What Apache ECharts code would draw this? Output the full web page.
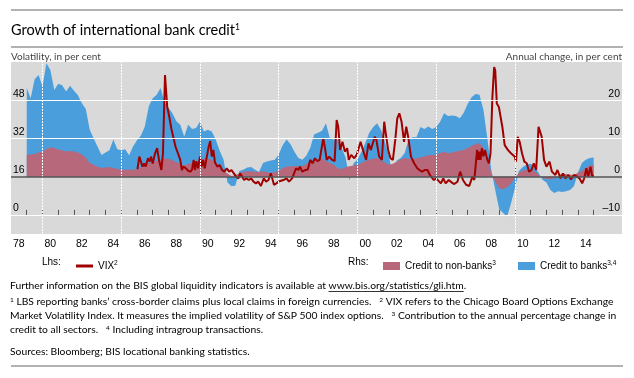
<!DOCTYPE html>
<html><head><meta charset="utf-8">
<script src="https://cdn.jsdelivr.net/npm/echarts@6/dist/echarts.min.js"></script>
<style>html,body{margin:0;padding:0;background:#fff}#c{width:634px;height:378px}</style>
</head><body><div id="c"></div><script>
// ---- data ----
// quarterly credit series (contributions, % points), first observation 1979 Q1
const creditStart = 1979;
const nonBanks = [
 5.7,5.8,5.9,6.3, 6.6,7.2,7.7,7.5, 7.1,6.9,6.6,6.7, 6.6,6.3,5.8,5.0,
 3.6,3.1,2.6,2.3, 2.4,2.5,2.3,2.1, 1.8,1.8,1.8,1.9, 1.9,2.4,3.0,3.6,
 3.9,4.1,4.4,4.8, 4.6,4.3,3.8,3.3, 2.9,3.3,3.6,3.8, 4.0,4.8,4.7,4.4,
 3.7,2.6,1.6,0.8, 0.2,0.4,0.9,1.3, 1.4,1.4,1.3,1.2, 1.4,1.2,0.9,1.2,
 1.5,2.3,2.6,2.7, 2.7,2.7,2.8,3.3, 3.9,4.3,4.7,4.6, 4.1,3.6,3.1,2.2,
 2.0,2.5,2.7,2.9, 3.1,3.6,4.1,4.4, 4.7,4.9,4.3,3.7, 3.1,3.4,4.0,4.5,
 4.9,4.7,4.4,4.8, 5.0,5.3,5.6,5.7, 5.7,6.2,6.5,6.1, 6.3,6.6,6.8,7.0,
 7.5,8.1,8.5,8.8, 7.5,5.2,0.9,-1.3, -3.0,-3.3,-2.8,-1.8, -0.4,1.0,1.6,1.8,
 1.7,1.5,0.5,-0.3, -0.6,-0.7,-0.5,0.2, 0.8,0.7,0.5,0.5, 1.0,1.5,2.3,2.9,
 3.0
];
const banks = [
 17.5,14.7,19.6,20.3, 17.0,22.5,20.2,15.2, 17.2,17.0,15.7,17.1, 15.9,15.0,13.4,12.7,
 8.7,6.9,5.2,3.4, 3.9,4.4,7.4,5.1, 5.1,5.4,3.8,6.0, 7.6,8.4,10.1,14.8,
 16.6,17.3,18.8,14.7, 13.4,12.3,10.7,10.3, 7.6,10.3,8.9,8.9, 10.4,7.0,7.6,7.4,
 6.0,4.2,2.8,-1.5, -2.5,-2.3,0.6,0.5, 1.0,1.1,0.5,0.0, 2.2,2.8,3.3,3.2,
 4.3,5.9,7.1,5.8, 3.8,2.2,1.6,2.2, 3.6,6.7,6.8,7.4, 9.9,6.4,6.6,7.5,
 5.5,2.5,-1.0,0.6, 1.3,2.9,4.7,7.1, 8.3,9.1,7.9,5.3, 2.4,-0.3,0.2,0.4,
 1.3,5.1,5.9,5.5, 8.0,7.2,7.5,6.8, 7.3,8.2,10.1,9.8, 9.7,9.3,8.5,9.7,
 11.5,12.7,13.1,12.6, 10.0,4.8,0.9,-2.2, -5.5,-6.2,-7.6,-5.2, -2.6,0.5,0.9,1.4,
 1.7,1.2,0.5,-0.5, -0.9,-2.8,-3.8,-3.8, -4.0,-3.8,-3.5,-2.5, 0.0,2.1,2.1,2.0,
 2.0
];
const vixDates = [
 1986.03,1986.15,1986.25,1986.35,1986.45,1986.55,1986.7,1986.8,1986.9,1987.0,
 1987.15,1987.28,1987.4,1987.55,1987.65,1987.78,1987.92,1988.05,1988.18,1988.3,
 1988.45,1988.6,1988.75,1988.85,1988.95,1989.1,1989.27,1989.4,1989.5,1989.6,
 1989.68,1989.77,1989.88,1990.0,1990.1,1990.2,1990.3,1990.42,1990.55,1990.65,
 1990.75,1990.85,1990.95,1991.1,1991.25,1991.4,1991.55,1991.7,1991.85,1992.0,
 1992.15,1992.3,1992.44,1992.55,1992.65,1992.8,1992.95,1993.1,1993.25,1993.4,
 1993.55,1993.7,1993.87,1994.05,1994.2,1994.35,1994.5,1994.7,1994.85,1995.0,
 1995.1,1995.3,1995.5,1995.65,1995.85,1996.1,1996.25,1996.35,1996.5,1996.7,
 1996.85,1997.0,1997.15,1997.3,1997.45,1997.6,1997.83,1997.95,1998.05,1998.2,
 1998.4,1998.55,1998.68,1998.78,1998.9,1999.05,1999.2,1999.35,1999.45,1999.6,
 1999.8,1999.95,2000.2,2000.35,2000.55,2000.7,2000.85,2001.1,2001.2,2001.38,
 2001.55,2001.7,2001.8,2001.95,2002.1,2002.25,2002.4,2002.53,2002.66,2002.8,
 2002.96,2003.1,2003.22,2003.4,2003.6,2003.8,2003.94,2004.1,2004.3,2004.45,
 2004.6,2004.85,2005.0,2005.3,2005.45,2005.6,2005.8,2006.0,2006.15,2006.35,
 2006.52,2006.7,2006.9,2007.1,2007.3,2007.42,2007.5,2007.6,2007.68,2007.75,
 2007.82,2007.9,2008.0,2008.1,2008.25,2008.35,2008.45,2008.57,2008.68,2008.75,
 2008.85,2008.98,2009.08,2009.2,2009.35,2009.55,2009.75,2009.98,2010.07,2010.18,
 2010.3,2010.45,2010.6,2010.75,2010.9,2011.05,2011.2,2011.35,2011.5,2011.6,
 2011.7,2011.85,2012.0,2012.2,2012.35,2012.57,2012.7,2012.9,2013.05,2013.2,
 2013.4,2013.55,2013.75,2013.95,2014.1,2014.27,2014.4,2014.54,2014.65,2014.8,
 2014.9,2015.0
];
const vixValues = [
 19.1,24.4,24.8,20.2,21.5,20.2,23.7,22.3,24.4,21.5,
 25.8,27.9,23.0,18.8,25.8,58.5,45.2,41.1,36.2,32.7,
 28.5,25.8,23.0,18.8,20.2,19.5,18.4,18.1,19.0,23.0,
 18.8,22.5,19.5,24.4,20.2,23.0,19.5,20.2,28.5,30.9,
 24.4,27.2,22.0,20.2,20.9,18.8,18.1,19.5,18.1,18.8,
 17.4,16.0,15.3,17.4,16.7,14.6,15.3,14.6,15.3,13.9,
 13.2,13.9,12.1,15.3,13.9,14.6,17.4,12.6,13.2,14.0,
 14.6,14.6,15.3,13.9,15.3,19.5,18.8,20.2,18.1,18.8,
 19.0,23.0,21.6,23.7,22.5,23.0,32.0,27.5,23.0,24.4,
 23.0,22.5,39.7,36.9,27.2,30.6,26.5,27.9,23.0,25.1,
 23.7,25.1,30.6,27.2,23.0,29.9,27.2,32.7,31.5,24.4,
 23.0,39.0,34.0,27.2,23.7,23.0,31.3,40.4,42.5,39.0,
 30.6,36.9,32.7,24.4,21.6,19.5,18.8,18.1,18.8,18.8,
 16.7,14.6,15.3,13.2,15.3,13.2,14.6,13.5,12.9,13.9,
 18.1,14.6,12.6,12.1,16.0,14.6,20.2,27.2,23.0,26.5,
 23.0,27.9,24.5,27.2,23.0,21.6,25.8,49.4,61.9,60.5,
 46.6,45.2,45.9,36.9,29.2,27.2,25.8,24.4,22.3,32.7,
 30.6,25.8,22.3,21.6,18.1,18.8,21.6,18.8,36.9,36.2,
 32.7,23.0,20.2,22.3,18.1,16.7,18.8,15.3,17.4,15.3,
 16.7,14.9,16.7,16.0,15.3,13.2,15.3,19.5,16.0,20.2,
 16.5,16.1
];
const labelYears = [1978,1980,1982,1984,1986,1988,1990,1992,1994,1996,1998,2000,2002,2004,2006,2008,2010,2012,2014];
const tickYears = [1979,1980,1981,1982,1983,1984,1985,1986,1987,1988,1989,1990,1991,1992,1993,1994,1995,1996,1997,1998,1999,2000,2001,2002,2003,2004,2005,2006,2007,2008,2009,2010,2011,2012,2013,2014,2015];
const longTickYears = [1980,1985,1990,1995,2000,2005,2010];
const lhsTicks = [0,16,32,48];
const rhsTicks = [-10,0,10,20];

// ---- build ----
const creditDates = nonBanks.map((_, i) => creditStart + i * 0.25);
const nonBanksData = creditDates.map((d, i) => [d, nonBanks[i]]);
// banks contribution stacked on non-banks when both have the same sign (samesign stacking)
const banksStackTop = banks.map((b, i) => {
  const p = nonBanks[i];
  return (p >= 0 && b >= 0) || (p < 0 && b < 0) ? p + b : b;
});
const banksData = creditDates.map((d, i) => [d, banksStackTop[i]]);
const vixData = vixDates.map((d, i) => [d, vixValues[i]]);

const C = {bg:'#d9d9d9', blue:'#4a9edc', pink:'#b8687b', red:'#a00000', zero:'#555555', rule:'#999999'};
const SANS = 'Liberation Sans, Arial, sans-serif';
const CAL = 'Lato, Carlito, sans-serif';
const FN = 10.3;

function measure(text, font){
  const c = document.createElement('canvas').getContext('2d');
  c.font = font; return c.measureText(text).width;
}
const supStyle = (fs) => ({fontSize: fs, fontFamily: CAL, fill:'#000', padding:[0,0,Math.round(fs*0.7),0]});

const urlPrefix = 'Further information on the BIS global liquidity indicators is available at ';
const urlText = 'www.bis.org/statistics/gli.htm';
const urlX = 10 + measure(urlPrefix, FN + 'px Lato');
const urlW = measure(urlText, FN + 'px Lato');

const chart = echarts.init(document.getElementById('c'), null, {renderer:'canvas'});
const blankML = (data, style) => ({
  silent:true, symbol:['none','none'], animation:false,
  label:{show:false}, emphasis:{disabled:true}, lineStyle:style, data
});
const legendText = {fontSize:10, fontFamily:SANS, color:'#000',
  rich:{t:{fontSize:10, fontFamily:SANS}, s:{fontSize:6.5, fontFamily:SANS, padding:[0,0,5,0]}}};
chart.setOption({
  animation:false,
  grid:{left:11, right:12, top:62, bottom:144, show:true, backgroundColor:C.bg, borderWidth:0},
  xAxis:[
    {type:'value', min:1978, max:2016.8, position:'bottom',
     axisLine:{show:false}, splitLine:{show:false},
     axisTick:{show:true, inside:true, length:5, lineStyle:{color:'#555', width:1}, customValues: tickYears},
     axisLabel:{customValues: labelYears.map(y => y + 0.5), margin:5, fontSize:10.5, fontFamily:SANS, color:'#000',
       formatter: v => String(Math.floor(v) % 100).padStart(2,'0')}},
    {type:'value', min:1978, max:2016.8, position:'bottom',
     axisLine:{show:false}, splitLine:{show:false}, axisLabel:{show:false},
     axisTick:{show:true, inside:true, length:10, lineStyle:{color:'#555', width:1}, customValues: longTickYears}}
  ],
  yAxis:[
    {type:'value', min:-8, max:64, interval:8, position:'left',
     axisLine:{show:false}, axisTick:{show:false}, splitLine:{show:false},
     axisLabel:{inside:true, margin:2, fontSize:10.5, fontFamily:SANS, color:'#000', verticalAlign:'bottom',
       padding:[0,0,1,0], formatter: v => lhsTicks.includes(v) ? String(v) : ''}},
    {type:'value', min:-15, max:30, interval:5, position:'right',
     axisLine:{show:false}, axisTick:{show:false}, splitLine:{show:false},
     axisLabel:{inside:true, margin:2, fontSize:10.5, fontFamily:SANS, color:'#000', verticalAlign:'bottom',
       padding:[0,0,1,0], formatter: v => rhsTicks.includes(v) ? (v < 0 ? '\u2013' + (-v) : String(v)) : ''}}
  ],
  legend:[
    {data:['VIX'], left:71, top:255, icon:'rect', itemWidth:17, itemHeight:3, selectedMode:false,
     textStyle:legendText, formatter: () => '{t|VIX}{s|2}'},
    {data:['Credit to non-banks'], left:378, top:255, icon:'rect', itemWidth:17, itemHeight:8, selectedMode:false,
     textStyle:legendText, formatter: () => '{t|Credit to non-banks}{s|3}'},
    {data:['Credit to banks'], left:513, top:255, icon:'rect', itemWidth:17, itemHeight:8, selectedMode:false,
     textStyle:legendText, formatter: () => '{t|Credit to banks}{s|3,4}'}
  ],
  series:[
    {type:'line', name:'_grid', yAxisIndex:1, data:[], z:1, silent:true,
     markLine: blankML(rhsTicks.filter(v => v !== 0).map(v => ({yAxis:v})), {color:'#fff', width:1, type:'solid'})},
    {type:'line', name:'_vgrid', yAxisIndex:1, data:[], z:1, silent:true,
     markLine: blankML(longTickYears.map(v => ({xAxis:v})), {color:'#fff', width:1, type:[2,1]})},
    {type:'line', name:'Credit to banks', yAxisIndex:1, data:banksData, z:2,
     symbol:'none', lineStyle:{width:0}, itemStyle:{color:C.blue}, areaStyle:{color:C.blue, opacity:1}, silent:true},
    {type:'line', name:'Credit to non-banks', yAxisIndex:1, data:nonBanksData, z:2,
     symbol:'none', lineStyle:{width:0}, itemStyle:{color:C.pink}, areaStyle:{color:C.pink, opacity:1}, silent:true},
    {type:'line', name:'_zero', yAxisIndex:1, data:[], z:3, silent:true,
     markLine: blankML([{yAxis:0}], {color:C.zero, width:1.5, type:'solid'})},
    {type:'line', name:'VIX', yAxisIndex:0, data:vixData, z:4, symbol:'none', silent:true,
     lineStyle:{color:C.red, width:2}, itemStyle:{color:C.red}}
  ],
  graphic:[
    {type:'line', shape:{x1:11,y1:10,x2:623,y2:10}, style:{stroke:C.rule, lineWidth:1.5}},
    {type:'line', shape:{x1:11,y1:47,x2:623,y2:47}, style:{stroke:C.rule, lineWidth:1.5}},
    {type:'line', shape:{x1:11,y1:366,x2:623,y2:366}, style:{stroke:C.rule, lineWidth:1.5}},
    {type:'text', x:11, y:30, style:{text:'{t|Growth of international bank credit}{s|1}', verticalAlign:'middle',
      fontSize:14.5, fontFamily:CAL, fill:'#000',
      rich:{t:{fontSize:14.5, fontFamily:CAL, fill:'#000'}, s:supStyle(8.5)}}},
    {type:'text', x:11, y:57, style:{text:'Volatility, in per cent', verticalAlign:'middle', fontSize:10, fontFamily:CAL, fill:'#444'}},
    {type:'text', x:622, y:57, style:{text:'Annual change, in per cent', align:'right', verticalAlign:'middle', fontSize:10, fontFamily:CAL, fill:'#444'}},
    {type:'text', x:42, y:262, style:{text:'Lhs:', verticalAlign:'middle', fontSize:10, fontFamily:SANS, fill:'#000'}},
    {type:'text', x:348, y:262, style:{text:'Rhs:', verticalAlign:'middle', fontSize:10, fontFamily:SANS, fill:'#000'}},
    {type:'text', x:10, y:286, style:{text:urlPrefix, verticalAlign:'middle', fontSize:FN, fontFamily:CAL, fill:'#000'}},
    {type:'text', x:urlX, y:286, style:{text:urlText + '.', verticalAlign:'middle', fontSize:FN, fontFamily:CAL, fill:'#000'}},
    {type:'line', shape:{x1:urlX, y1:291.5, x2:urlX + urlW, y2:291.5}, style:{stroke:'#000', lineWidth:0.8}},
    {type:'text', x:10, y:302, style:{text:'{s|1} LBS reporting banks\u2019 cross-border claims plus local claims in foreign currencies.   {s|2} VIX refers to the Chicago Board Options Exchange',
      verticalAlign:'middle', fontSize:FN, fontFamily:CAL, fill:'#000', rich:{s:supStyle(6.5)}}},
    {type:'text', x:10, y:316, style:{text:'Market Volatility Index. It measures the implied volatility of S&P 500 index options.   {s|3} Contribution to the annual percentage change in',
      verticalAlign:'middle', fontSize:FN, fontFamily:CAL, fill:'#000', rich:{s:supStyle(6.5)}}},
    {type:'text', x:10, y:330, style:{text:'credit to all sectors.   {s|4} Including intragroup transactions.',
      verticalAlign:'middle', fontSize:FN, fontFamily:CAL, fill:'#000', rich:{s:supStyle(6.5)}}},
    {type:'text', x:10, y:352, style:{text:'Sources: Bloomberg; BIS locational banking statistics.',
      verticalAlign:'middle', fontSize:FN, fontFamily:CAL, fill:'#000'}}
  ]
});
</script></body></html>
